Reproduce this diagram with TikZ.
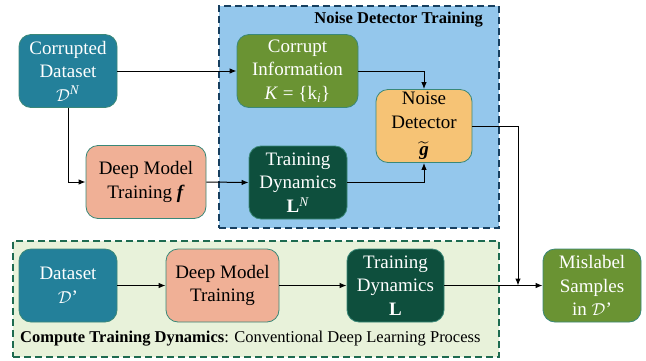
\documentclass[tikz,border=0pt]{standalone}
\usepackage{amsmath,amssymb}
\usepackage{fontspec}
\setmainfont{Liberation Serif}
\usetikzlibrary{arrows.meta}
\definecolor{cteal}{HTML}{23809A}
\definecolor{cgreen}{HTML}{6A9333}
\definecolor{csalmon}{HTML}{F0B096}
\definecolor{cdark}{HTML}{0E4F3D}
\definecolor{corange}{HTML}{F6C375}
\definecolor{cblue}{HTML}{94C7EC}
\definecolor{cnavy}{HTML}{173F5F}
\definecolor{clight}{HTML}{E8F2DA}
\definecolor{cgborder}{HTML}{1E6B50}
\definecolor{cborder}{HTML}{3A8878}
\newcommand{\calD}{$\mathcal{D}$}
\begin{document}
\begin{tikzpicture}[x=1pt,y=-1pt,
  box/.style={draw=cborder, line width=0.8pt, rounded corners=12pt, inner sep=0pt,
    align=center, font=\fontsize{19}{23.5}\selectfont, minimum height=73pt},
  region/.style={line width=2.4pt, dash pattern=on 7pt off 4pt, inner sep=0pt, anchor=north west},
  arr/.style={-{Latex[length=7pt,width=5.5pt]}, line width=1pt},
  lbl/.style={font=\fontsize{16.5}{19}\selectfont, inner sep=0pt}]
\useasboundingbox (0,0) rectangle (646,360);
% regions
\node[region, draw=cnavy, fill=cblue, minimum width=280pt, minimum height=222pt] (blue) at (218,5) {};
\node[region, draw=cgborder, fill=clight, minimum width=486pt, minimum height=116pt] (green) at (12,240) {};
\node[lbl, anchor=east] (title) at (483,19.5) {\textbf{Noise Detector Training}};
\node[lbl, anchor=west] (caption) at (20,339) {\textbf{Compute Training Dynamics}: Conventional Deep Learning Process};
% top nodes
\node[box, fill=cteal, text=white, minimum width=98pt] (cd) at (68,71) {Corrupted\\Dataset\\\calD\textsuperscript{\textit{N}}};
\node[box, fill=cgreen, text=white, minimum width=121pt] (ci) at (297.5,71) {Corrupt\\Information\\\textit{K} = \{k\textsubscript{\textit{i}}\}};
\node[box, fill=corange, text=black, minimum width=96pt] (nd) at (424,126) {Noise\\Detector\\[4pt]$\widetilde{\mbox{\textbf{\textit{g}}}}$};
\node[box, fill=csalmon, text=black, minimum width=120pt] (dmtf) at (146,182) {Deep Model\\Training \textbf{\textit{f}}};
\node[box, fill=cdark, text=white, minimum width=98pt] (tdn) at (298,182.5) {Training\\Dynamics\\\textbf{L}\textsuperscript{\textit{N}}};
% bottom nodes
\node[box, fill=cteal, text=white, minimum width=98pt] (ds) at (68,285.5) {Dataset\\\calD’};
\node[box, fill=csalmon, text=black, minimum width=113pt] (dmt) at (222.5,285.5) {Deep Model\\Training};
\node[box, fill=cdark, text=white, minimum width=97pt] (tdl) at (395.5,285.5) {Training\\Dynamics\\\textbf{L}};
\node[box, fill=cgreen, text=white, minimum width=98pt] (ms) at (592,285.5) {Mislabel\\Samples\\in \calD’};
\coordinate (join) at (518,285.5);
% connectors
\draw[arr] (cd.east) -- (ci.west);
\draw[arr] (cd.south) |- (dmtf.west);
\draw[arr] (dmtf.east) -- (tdn.west);
\draw[arr] (ci.east) -| (nd.north);
\draw[arr] (tdn.east) -| (nd.south);
\draw[arr] (nd.east) -| (join);
\draw[arr] (ds.east) -- (dmt.west);
\draw[arr] (dmt.east) -- (tdl.west);
\draw[arr] (tdl.east) -- (ms.west);
\end{tikzpicture}
\end{document}
